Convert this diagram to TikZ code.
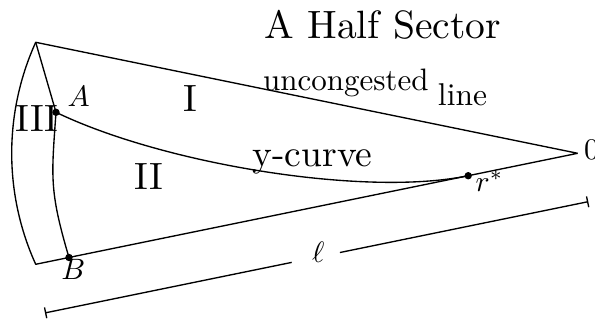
\documentclass[tikz,border=0pt]{standalone}
\usetikzlibrary{calc}
\newcommand{\bigtext}[2]{\scalebox{#1}{#2}}
\begin{document}
\begin{tikzpicture}[x=1pt,y=1pt,
  edge/.style={line width=1.35pt, line join=round},
  dotmark/.style={circle, fill=black, inner sep=0pt, minimum size=7.4pt},
  txt/.style={inner sep=0pt},
]
\useasboundingbox (0,0) rectangle (595,322);
% main points
\coordinate (T) at (35.7,279.7);
\coordinate (Bv) at (35.7,57.7);
\coordinate (O) at (577.7,168.7);
\coordinate (A) at (56,209.7);
\coordinate (B) at ($(Bv)!0.0614!(O)$);
\coordinate (R) at ($(Bv)!0.798!(O)$);
% sector outline
\draw[edge] (O) -- (T) arc[start angle=155.6, end angle=204.4, radius=268.7pt] -- (O);
% inner boundary of region III
\draw[edge] (T) -- (A) .. controls (51.5,145) and (49,132) .. (B);
% y-curve
\draw[edge] (A) .. controls (164.1,157.6) and (365.4,124.9) .. (R);
% dots
\node[dotmark] (dA) at (A) {};
\node[dotmark] (dB) at (B) {};
\node[dotmark] (dR) at (R) {};
% dimension line
\coordinate (D1) at ($(Bv)!49.5pt!-90:(O)$);
\coordinate (D2) at ($(O)!49.5pt!90:(Bv)$);
\coordinate (G1) at ($(D1)!0.454!(D2)$);
\coordinate (G2) at ($(D1)!0.543!(D2)$);
\coordinate (D1a) at ($(D1)!5.5pt!90:(D2)$);
\coordinate (D1b) at ($(D1)!5.5pt!-90:(D2)$);
\coordinate (D2a) at ($(D2)!5.5pt!90:(D1)$);
\coordinate (D2b) at ($(D2)!5.5pt!-90:(D1)$);
\draw[edge] (D1) -- (G1);
\draw[edge] (G2) -- (D2);
\draw[edge] (D1a) -- (D1b);
\draw[edge] (D2a) -- (D2b);
% texts
\node[txt, anchor=base] (title) at (382.8,283.7) {\bigtext{3.95}{A Half Sector}};
\node[txt, anchor=base] (r3) at (37,190.3) {\bigtext{3.8}{III}};
\node[txt, anchor=base] (r1) at (190,210.3) {\bigtext{3.8}{I}};
\node[txt, anchor=base] (r2) at (148.5,132) {\bigtext{3.8}{II}};
\node[txt, anchor=base] (yc) at (312.5,155.3) {\bigtext{3.75}{y-curve}};
\node[txt, anchor=base] (unc) at (345.8,231.3) {\bigtext{3.1}{uncongested}};
\node[txt, anchor=base] (lin) at (462.5,216) {\bigtext{3.15}{line}};
\node[txt, anchor=base] (la) at (78.8,215.3) {\bigtext{2.95}{$A$}};
\node[txt, anchor=base] (lb) at (73.3,42.7) {\bigtext{2.95}{$B$}};
\node[txt, anchor=base] (ell) at (318.3,59.3) {\bigtext{2.95}{$\ell$}};
\node[txt, anchor=base west] (rs) at (475.5,130.3) {\bigtext{2.95}{$r^*$}};
\node[txt, anchor=base west] (zero) at (584,162) {\bigtext{3.0}{0}};
\end{tikzpicture}
\end{document}
